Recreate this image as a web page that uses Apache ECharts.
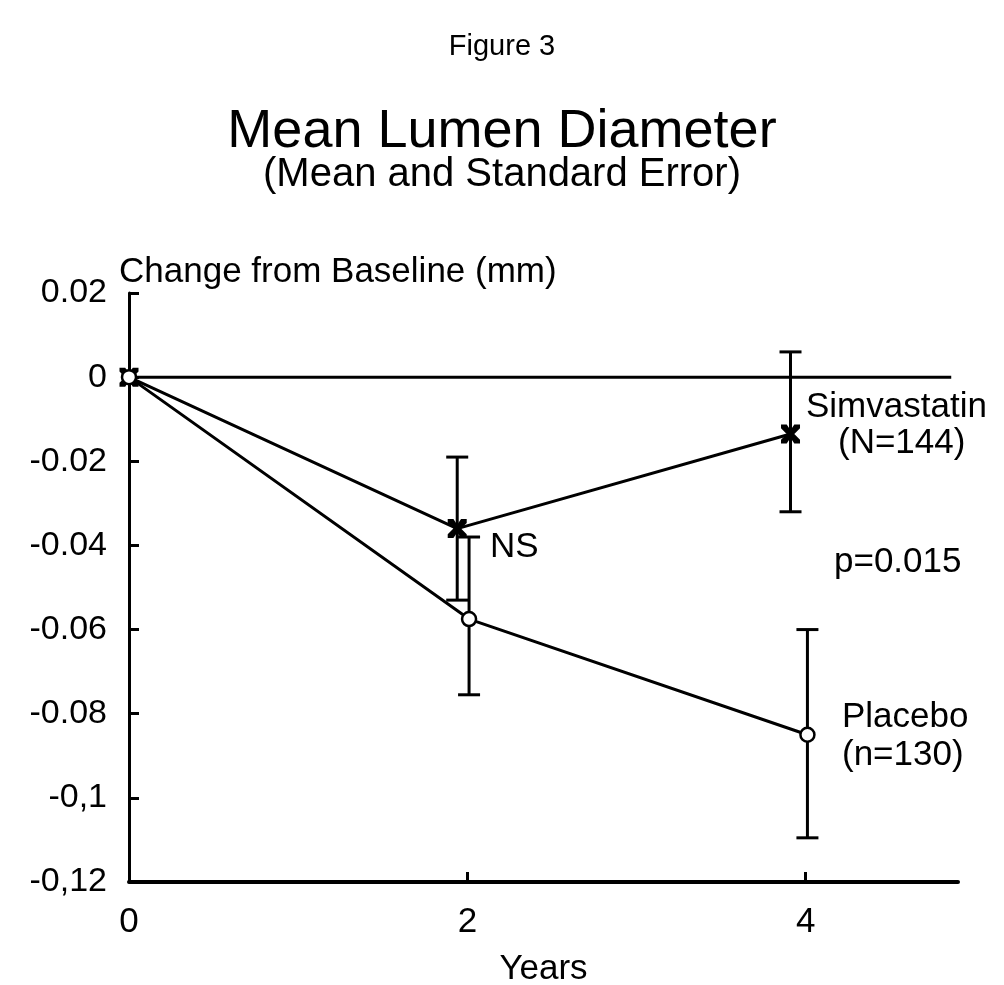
<!DOCTYPE html>
<html>
<head>
<meta charset="utf-8">
<script src="https://cdn.jsdelivr.net/npm/echarts@6/dist/echarts.min.js"></script>
<style>html,body{margin:0;padding:0;background:#fff}#c{width:1004px;height:985px}</style>
</head>
<body>
<div id="c"></div>
<script>
// ---- data ----
var xTicks = [0, 2, 4];
var yTickLabels = { '-0.12': '-0,12', '-0.1': '-0,1', '-0.08': '-0.08', '-0.06': '-0.06', '-0.04': '-0.04', '-0.02': '-0.02', '0': '0', '0.02': '0.02' };
var simX     = [0, 1.94, 3.91];
var simMean  = [0, -0.036, -0.0135];
var simLow   = [null, -0.053, -0.032];
var simHigh  = [null, -0.019, 0.006];
var plaX     = [0, 2.01, 4.01];
var plaMean  = [0, -0.0575, -0.085];
var plaLow   = [null, -0.0755, -0.1095];
var plaHigh  = [null, -0.038, -0.060];
var refLineX = [0, 4.86];

function pts(xs, ys) { return xs.map(function (x, i) { return [x, ys[i]]; }); }
function bars(xs, lo, hi) {
  var out = [];
  xs.forEach(function (x, i) { if (lo[i] !== null) out.push([x, lo[i], hi[i]]); });
  return out;
}
function errRender(params, api) {
  var x = api.value(0);
  var pLo = api.coord([x, api.value(1)]);
  var pHi = api.coord([x, api.value(2)]);
  var w = 11;
  var st = { stroke: '#000', lineWidth: 3 };
  return {
    type: 'group',
    children: [
      { type: 'line', shape: { x1: pLo[0], y1: pLo[1], x2: pHi[0], y2: pHi[1] }, style: st },
      { type: 'line', shape: { x1: pLo[0] - w, y1: pLo[1], x2: pLo[0] + w, y2: pLo[1] }, style: st },
      { type: 'line', shape: { x1: pHi[0] - w, y1: pHi[1], x2: pHi[0] + w, y2: pHi[1] }, style: st }
    ]
  };
}

var FONT = '"Liberation Sans", Arial, Helvetica, sans-serif';
var chart = echarts.init(document.getElementById('c'), null, { renderer: 'canvas' });
chart.setOption({
  backgroundColor: '#fff',
  animation: false,
  title: [
    { text: 'Figure 3', left: 'center', top: 27, textStyle: { fontFamily: FONT, fontSize: 29, fontWeight: 'normal', color: '#000' } },
    { text: 'Mean Lumen Diameter', left: 'center', top: 100, textStyle: { fontFamily: FONT, fontSize: 54, fontWeight: 'normal', color: '#000' } },
    { text: '(Mean and Standard Error)', left: 'center', top: 150, textStyle: { fontFamily: FONT, fontSize: 40, fontWeight: 'normal', color: '#000' } }
  ],
  grid: { left: 129, top: 293, width: 829, height: 589, containLabel: false, outerBoundsMode: 'none' },
  xAxis: {
    type: 'value', min: 0, max: 4.9,
    name: 'Years', nameLocation: 'middle', nameGap: 70,
    nameTextStyle: { fontFamily: FONT, fontSize: 35, color: '#000' },
    axisLine: { show: true, onZero: false, lineStyle: { color: '#000', width: 4 } },
    axisTick: { show: true, inside: true, length: 10, customValues: xTicks, lineStyle: { color: '#000', width: 3 } },
    axisLabel: { customValues: xTicks, margin: 23, fontFamily: FONT, fontSize: 35, color: '#000' },
    splitLine: { show: false }
  },
  yAxis: {
    type: 'value', min: -0.12, max: 0.02, interval: 0.02,
    name: 'Change from Baseline (mm)', nameLocation: 'end', nameGap: 3,
    nameTextStyle: { fontFamily: FONT, fontSize: 35, color: '#000', align: 'left', padding: [0, 0, 0, -10] },
    axisLine: { show: true, onZero: false, lineStyle: { color: '#000', width: 3 } },
    axisTick: { show: true, inside: true, length: 10, lineStyle: { color: '#000', width: 3 } },
    axisLabel: {
      margin: 22, fontFamily: FONT, fontSize: 34, color: '#000',
      formatter: function (v) { var k = String(Math.round(v * 100) / 100); return yTickLabels[k] !== undefined ? yTickLabels[k] : k; }
    },
    splitLine: { show: false }
  },
  series: [
    {
      name: 'zero', type: 'line', data: pts(refLineX, [0, 0]), symbol: 'none',
      lineStyle: { color: '#000', width: 3 }, z: 1
    },
    {
      name: 'Simvastatin', type: 'line', data: pts(simX, simMean),
      symbol: 'path://M0,0L3,0L5,3L7,0L10,0L10,2L7,5L10,8L10,10L7,10L5,7L3,10L0,10L0,8L3,5L0,2Z', symbolSize: 19,
      itemStyle: { color: '#000' }, lineStyle: { color: '#000', width: 3 }, z: 3
    },
    {
      name: 'Placebo', type: 'line', data: pts(plaX, plaMean),
      symbol: 'circle', symbolSize: 14,
      itemStyle: { color: '#fff', borderColor: '#000', borderWidth: 2.5 }, lineStyle: { color: '#000', width: 3 }, z: 4
    },
    { name: 'simErr', type: 'custom', renderItem: errRender, data: bars(simX, simLow, simHigh), z: 2 },
    { name: 'plaErr', type: 'custom', renderItem: errRender, data: bars(plaX, plaLow, plaHigh), z: 2 }
  ],
  graphic: [
    { type: 'text', left: 806, top: 390, style: { text: 'Simvastatin', font: '35px ' + FONT, fill: '#000' } },
    { type: 'text', left: 838, top: 426, style: { text: '(N=144)', font: '35px ' + FONT, fill: '#000' } },
    { type: 'text', left: 490, top: 530, style: { text: 'NS', font: '35px ' + FONT, fill: '#000' } },
    { type: 'text', left: 834, top: 545, style: { text: 'p=0.015', font: '35px ' + FONT, fill: '#000' } },
    { type: 'text', left: 842, top: 700, style: { text: 'Placebo', font: '35px ' + FONT, fill: '#000' } },
    { type: 'text', left: 842, top: 738, style: { text: '(n=130)', font: '35px ' + FONT, fill: '#000' } }
  ]
});
</script>
</body>
</html>
